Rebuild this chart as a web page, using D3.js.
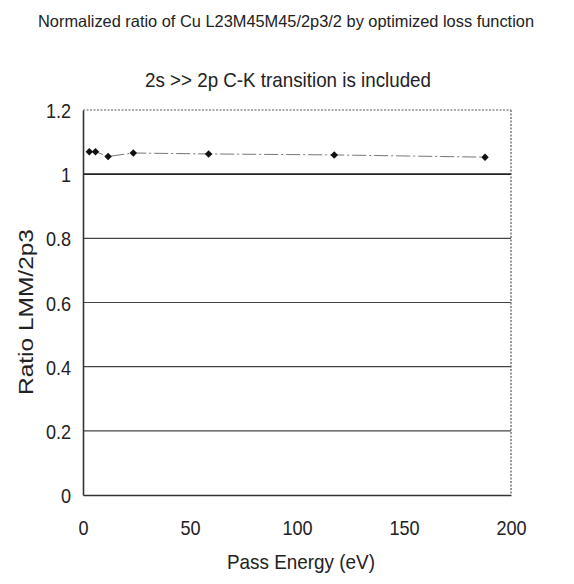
<!DOCTYPE html>
<html>
<head>
<meta charset="utf-8">
<script src="https://cdn.jsdelivr.net/npm/d3@7"></script>
<style>
  body { margin: 0; background: #fff; }
  text { font-family: "Liberation Sans Narrow", "Arial Narrow", "Liberation Sans", Arial, sans-serif; fill: #222; }
</style>
</head>
<body>
<svg id="chart"></svg>
<script>
//data
var passEnergy = [2.95, 5.85, 11.75, 23.5, 58.7, 117.4, 187.85];
var ratio = [1.07, 1.07, 1.055, 1.066, 1.063, 1.060, 1.053];
var xTicks = [0, 50, 100, 150, 200];
var yTicks = [0, 0.2, 0.4, 0.6, 0.8, 1, 1.2];

var svg = d3.select('#chart')
    .attr('width', 574)
    .attr('height', 584);

var margin = {top: 110, right: 63, bottom: 89, left: 83},
    width = +svg.attr('width') - margin.left - margin.right,
    height = +svg.attr('height') - margin.top - margin.bottom;

var x = d3.scaleLinear().domain([0, 200]).range([0, width]);
var y = d3.scaleLinear().domain([0, 1.2]).range([height, 0]);

var canvas = svg.append('g')
    .attr('transform', 'translate(' + margin.left + ',' + margin.top + ')');

//squeeze text to the condensed look of the scan
function narrow(sel, len) {
    sel.attr('textLength', len).attr('lengthAdjust', 'spacingAndGlyphs');
}

//titles
svg.append('text')
    .attr('x', 286).attr('y', 27)
    .attr('text-anchor', 'middle')
    .attr('font-size', 16.5)
    .text('Normalized ratio of Cu L23M45M45/2p3/2 by optimized loss function')
    .call(narrow, 496);

svg.append('text')
    .attr('x', 288).attr('y', 87)
    .attr('text-anchor', 'middle')
    .attr('font-size', 21)
    .text('2s >> 2p C-K transition is included')
    .call(narrow, 286);

//gridlines
canvas.append('g')
    .selectAll('line').data(yTicks.filter(d => d > 0 && d < 1.2))
    .enter().append('line')
        .attr('x1', 0).attr('x2', width)
        .attr('y1', d => y(d)).attr('y2', d => y(d))
        .attr('stroke', d => d === 1 ? '#222' : '#444')
        .attr('stroke-width', d => d === 1 ? 1.6 : 1.1);

//plot frame: solid left/bottom, dotted top/right
canvas.append('line')
    .attr('x1', 0).attr('x2', width).attr('y1', 0).attr('y2', 0)
    .attr('stroke', '#555').attr('stroke-width', 1.2).attr('stroke-dasharray', '2,1.5');
canvas.append('line')
    .attr('x1', width).attr('x2', width).attr('y1', 0).attr('y2', height)
    .attr('stroke', '#555').attr('stroke-width', 1.2).attr('stroke-dasharray', '2,1.5');

var yAxis = canvas.append('g')
    .call(d3.axisLeft(y).tickValues(yTicks).tickSize(0).tickPadding(12).tickFormat(d3.format('')));
var xAxis = canvas.append('g')
    .attr('transform', 'translate(0,' + height + ')')
    .call(d3.axisBottom(x).tickValues(xTicks).tickSize(0).tickPadding(22));

[yAxis, xAxis].forEach(function(a) {
    a.select('.domain').attr('stroke', '#333').attr('stroke-width', 1.6);
    a.selectAll('text')
        .attr('font-size', 21)
        .attr('fill', '#222')
        .each(function() {
            var t = d3.select(this);
            t.call(narrow, this.getComputedTextLength() * 0.86);
        });
});
xAxis.selectAll('text').attr('dy', '0.85em');
yAxis.selectAll('text').attr('dy', '0.36em');

//axis titles
svg.append('text')
    .attr('x', margin.left + width / 2 + 4).attr('y', 569)
    .attr('text-anchor', 'middle')
    .attr('font-size', 21)
    .text('Pass Energy (eV)')
    .call(narrow, 148);

svg.append('text')
    .attr('transform', 'translate(33,' + 312 + ') rotate(-90)')
    .attr('text-anchor', 'middle')
    .attr('font-size', 21)
    .text('Ratio LMM/2p3')
    .call(narrow, 166);

//series line and markers
var points = passEnergy.map((d, i) => [d, ratio[i]]);
canvas.append('path')
    .datum(points)
    .attr('fill', 'none')
    .attr('stroke', '#777')
    .attr('stroke-width', 1)
    .attr('stroke-dasharray', '14,3,2,3')
    .attr('d', d3.line().x(d => x(d[0])).y(d => y(d[1])));

canvas.append('g')
    .selectAll('path').data(points)
    .enter().append('path')
        .attr('transform', d => 'translate(' + x(d[0]) + ',' + y(d[1]) + ') rotate(45)')
        .attr('d', d3.symbol().type(d3.symbolSquare).size(28))
        .attr('fill', '#111');
</script>
</body>
</html>
